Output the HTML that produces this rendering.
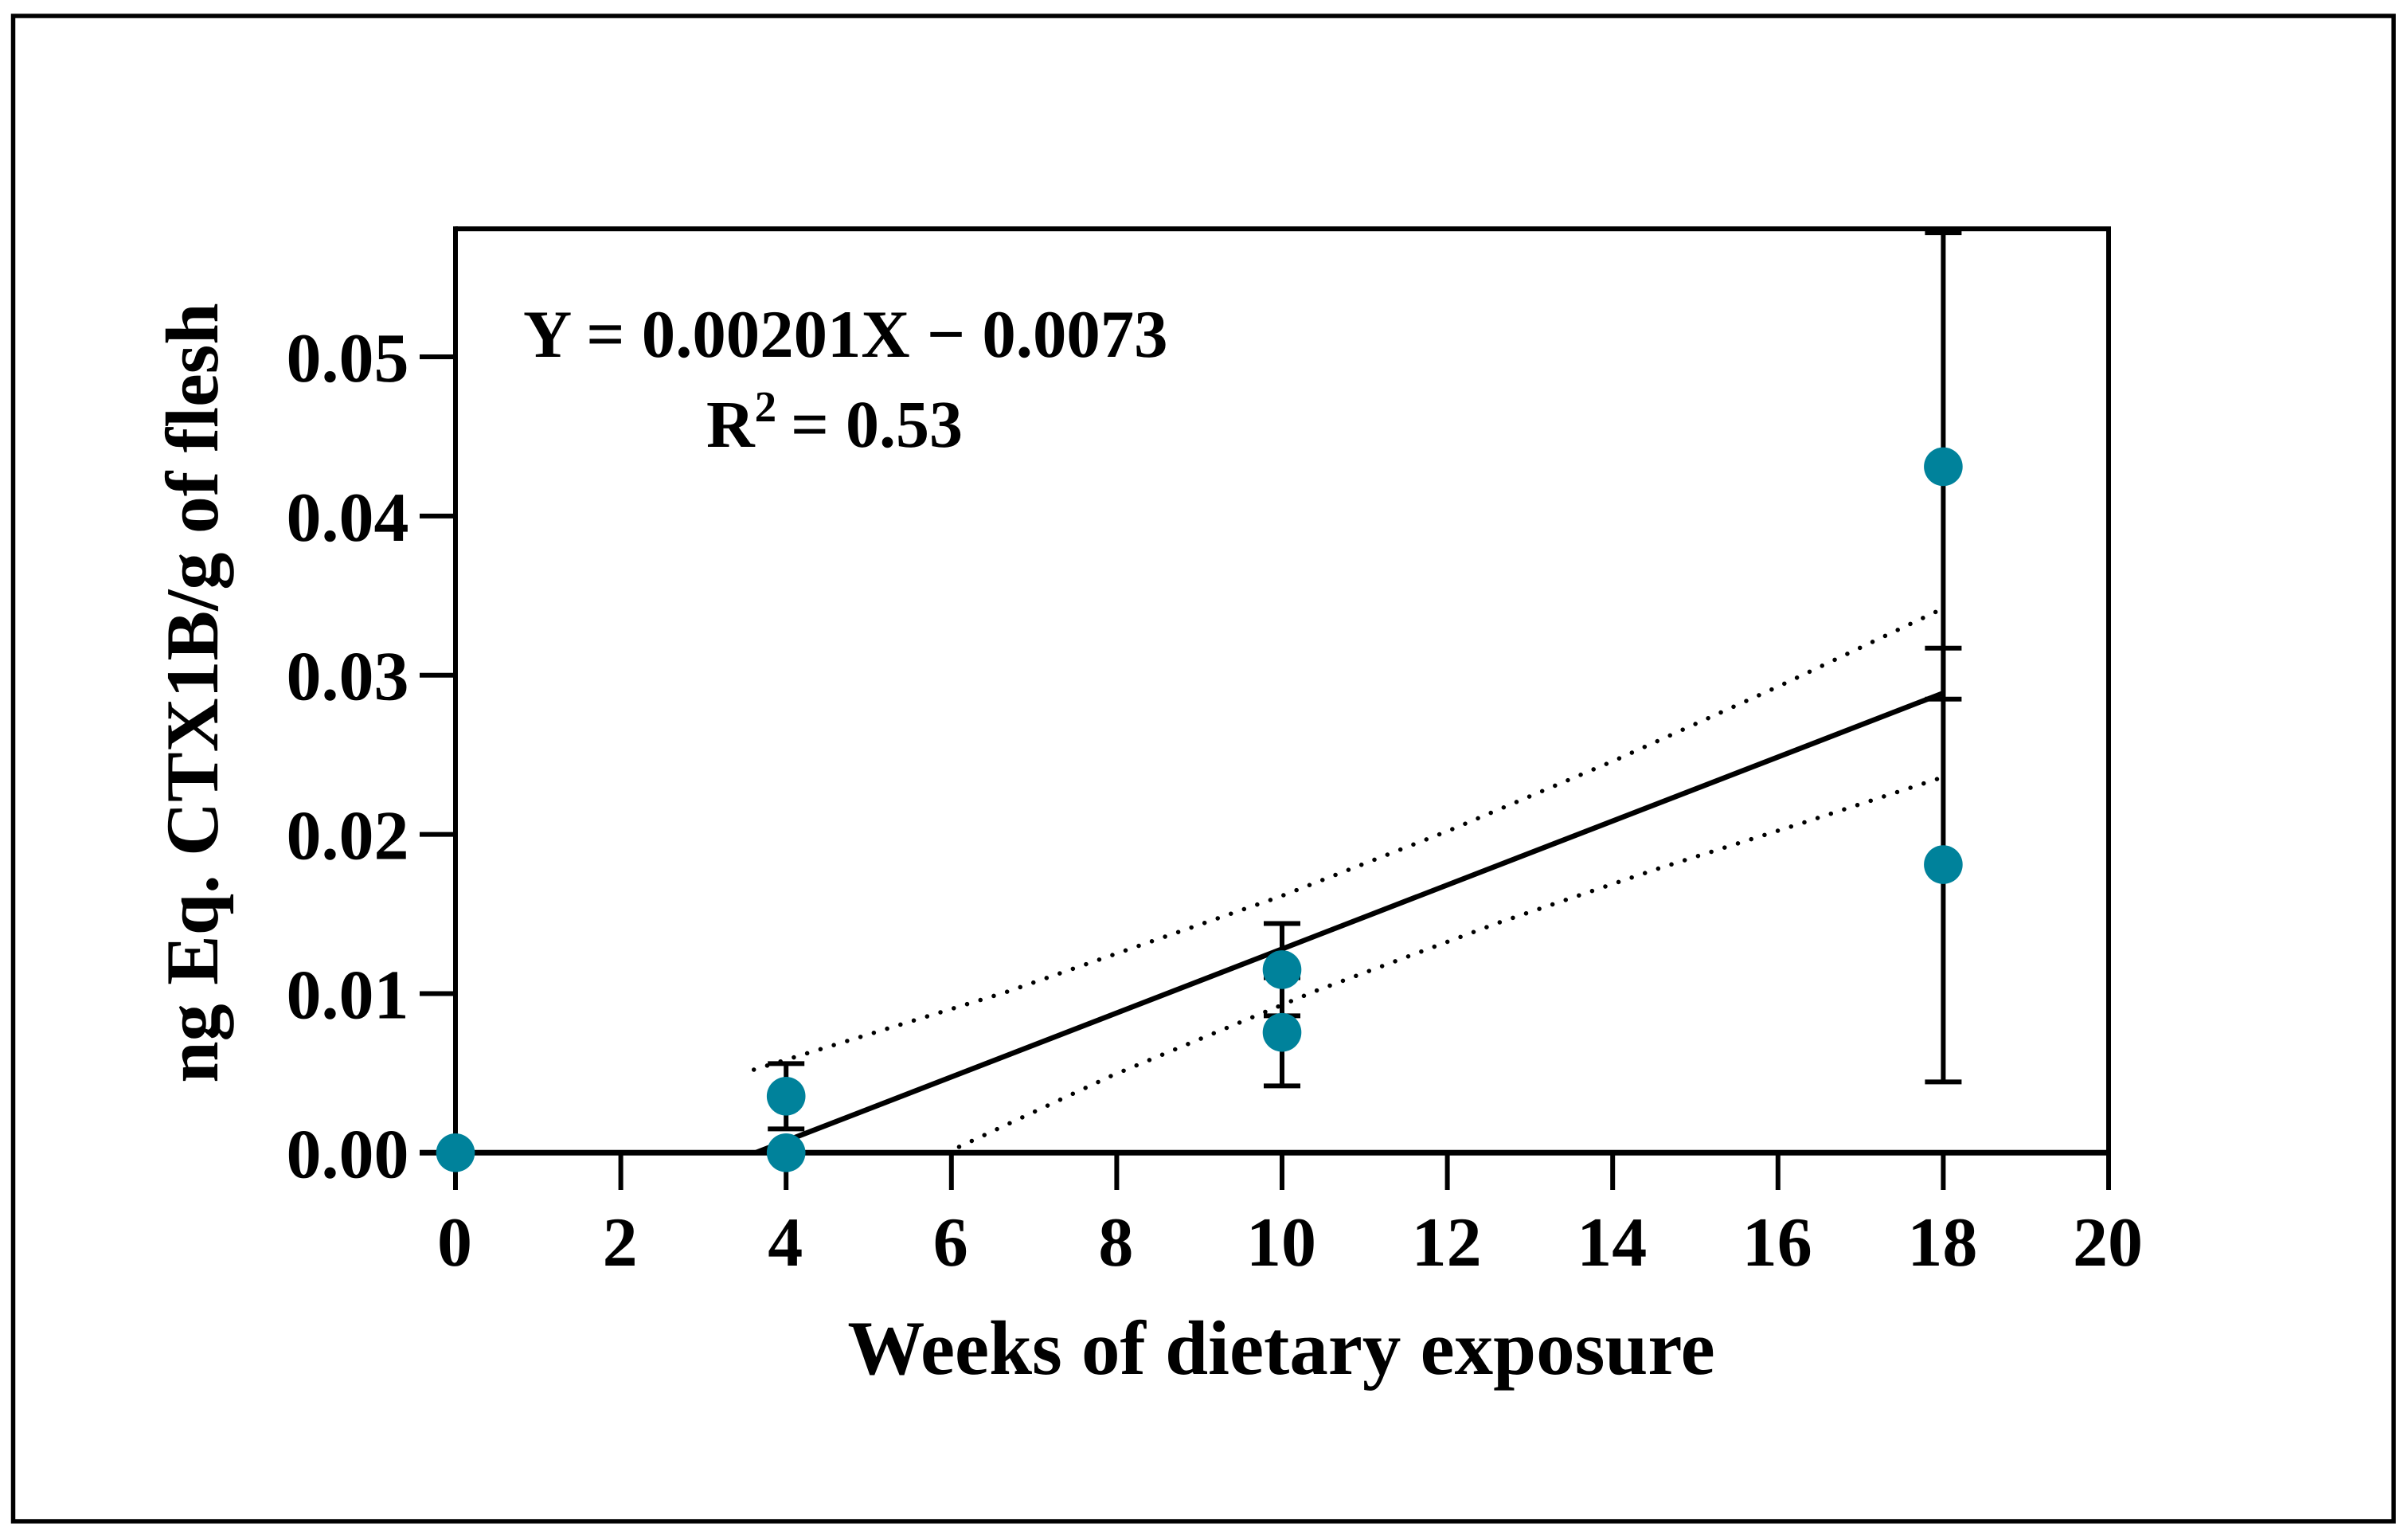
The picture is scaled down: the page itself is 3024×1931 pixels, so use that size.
<!DOCTYPE html>
<html>
<head>
<meta charset="utf-8">
<title>CTX1B in flesh vs weeks of dietary exposure</title>
<style>
html,body{margin:0;padding:0;background:#fff;width:3024px;height:1931px;overflow:hidden}
svg{display:block}
text{font-family:"Liberation Serif",serif;font-weight:bold;fill:#000;text-rendering:geometricPrecision}
</style>
</head>
<body>
<svg id="chart" xmlns="http://www.w3.org/2000/svg" width="3024" height="1931" viewBox="0 0 3024 1931">
  <rect x="0" y="0" width="3024" height="1931" fill="#fff"/>
  <rect x="16.5" y="20" width="2989.5" height="1890" fill="none" stroke="#000" stroke-width="5.5"/>
  <g id="marks"></g>
  <g id="axes"></g>
  <g id="points"></g>
  <text x="657" y="448" font-size="84.8">Y = 0.00201X − 0.0073</text>
  <text x="887" y="561" font-size="84">R<tspan dy="-32" font-size="55">2</tspan><tspan dy="32" dx="-3"> = 0.53</tspan></text>
  <text x="1609" y="1725" font-size="97" text-anchor="middle">Weeks of dietary exposure</text>
  <text x="273" y="870" font-size="94" text-anchor="middle" transform="rotate(-90 273 870)">ng Eq. CTX1B/g of flesh</text>
</svg>
<script>
var xTicks = [0, 2, 4, 6, 8, 10, 12, 14, 16, 18, 20];
var yTicks = [0, 0.01, 0.02, 0.03, 0.04, 0.05];
var yTickLabels = ['0.00', '0.01', '0.02', '0.03', '0.04', '0.05'];

var pointX = [0, 4, 4, 10, 10, 18, 18];
var pointY = [0, 0, 0.00355, 0.00756, 0.0115, 0.0181, 0.0431];
var errorLow = [null, null, 0.0015, 0.0042, 0.0086, 0.00445, 0.0285];
var errorHigh = [null, null, 0.0056, 0.0110, 0.0144, 0.0317, 0.0578];

var fitX = [3.63, 18];
var fitY = [0, 0.02888];
var upperCiX = [3.61, 6.65, 9.97, 12.02, 14.04, 16.03, 18];
var upperCiY = [0.00522, 0.01007, 0.01608, 0.02024, 0.02468, 0.02935, 0.0342];
var lowerCiX = [5.94, 7.93, 10.41, 12.63, 14.54, 16.31, 18];
var lowerCiY = [0, 0.00482, 0.01017, 0.01447, 0.01783, 0.02074, 0.0236];

var xMax = 20;
var yMax = 0.05804;

function sx(v) { return 572 + (v / xMax) * 2076; }
function sy(v) { return 1447.3 - (v / yMax) * 1160; }

var NS = 'http://www.w3.org/2000/svg';
function make(tag, parent, attrs) {
  var el = document.createElementNS(NS, tag);
  for (var k in attrs) { el.setAttribute(k, attrs[k]); }
  parent.appendChild(el);
  return el;
}
function linePath(xs, ys) {
  var d = '';
  for (var i = 0; i < xs.length; i++) {
    d += (i ? 'L' : 'M') + sx(xs[i]).toFixed(1) + ' ' + sy(ys[i]).toFixed(1);
  }
  return d;
}

var marks = document.getElementById('marks');
var axes = document.getElementById('axes');
var points = document.getElementById('points');

var upper = make('path', marks, {d: linePath(upperCiX, upperCiY), fill: 'none', stroke: '#000', 'stroke-width': 5.5, 'stroke-dasharray': '0.01 17.5', 'stroke-linecap': 'round', 'stroke-linejoin': 'round'});



var lower = make('path', marks, {d: linePath(lowerCiX, lowerCiY), fill: 'none', stroke: '#000', 'stroke-width': 5.5, 'stroke-dasharray': '0.01 17.5', 'stroke-linecap': 'round', 'stroke-linejoin': 'round'});



var fit = make('path', marks, {d: linePath(fitX, fitY), fill: 'none', stroke: '#000', 'stroke-width': 6.5});



pointX.forEach(function (x, i) {
  if (errorLow[i] === null) { return; }
  var g = make('g', marks, {stroke: '#000', 'stroke-width': 6, fill: 'none'});
  
  
  var cx = sx(x);
  var yLo = sy(errorLow[i]);
  var yHi = sy(errorHigh[i]);
  make('line', g, {x1: cx, x2: cx, y1: yLo, y2: yHi});
  make('line', g, {x1: cx - 23, x2: cx + 23, y1: yLo, y2: yLo});
  make('line', g, {x1: cx - 23, x2: cx + 23, y1: yHi, y2: yHi});
});

var plotBorder = make('path', axes, {d: 'M' + sx(0) + ' ' + sy(yMax) + 'H' + sx(xMax) + 'V' + sy(0), fill: 'none', stroke: '#000', 'stroke-width': 6});



var yAxis = make('line', axes, {x1: sx(0), x2: sx(0), y1: sy(yMax) - 3, y2: sy(0), stroke: '#000', 'stroke-width': 6});



var xAxis = make('line', axes, {x1: sx(0) - 45, x2: sx(xMax) + 3, y1: sy(0), y2: sy(0), stroke: '#000', 'stroke-width': 7});



xTicks.forEach(function (t) {
  var tick = make('line', axes, {x1: sx(t), x2: sx(t), y1: sy(0), y2: 1494, stroke: '#000', 'stroke-width': 6});
  
  
  var label = make('text', axes, {x: sx(t) - 1, y: 1589, 'font-size': 88, 'text-anchor': 'middle'});
  
  
  label.textContent = String(t);
});

yTicks.forEach(function (t, i) {
  var tick = make('line', axes, {x1: sx(0) - 45, x2: sx(0), y1: sy(t), y2: sy(t), stroke: '#000', 'stroke-width': 6});
  
  
  var label = make('text', axes, {x: 513.5, y: sy(t) + 31, 'font-size': 88, 'text-anchor': 'end'});
  
  
  label.textContent = yTickLabels[i];
});

pointX.forEach(function (x, i) {
  var dot = make('circle', points, {cx: sx(x), cy: sy(pointY[i]), r: 24.3, fill: '#00829b'});
  
  
});
</script>
</body>
</html>
